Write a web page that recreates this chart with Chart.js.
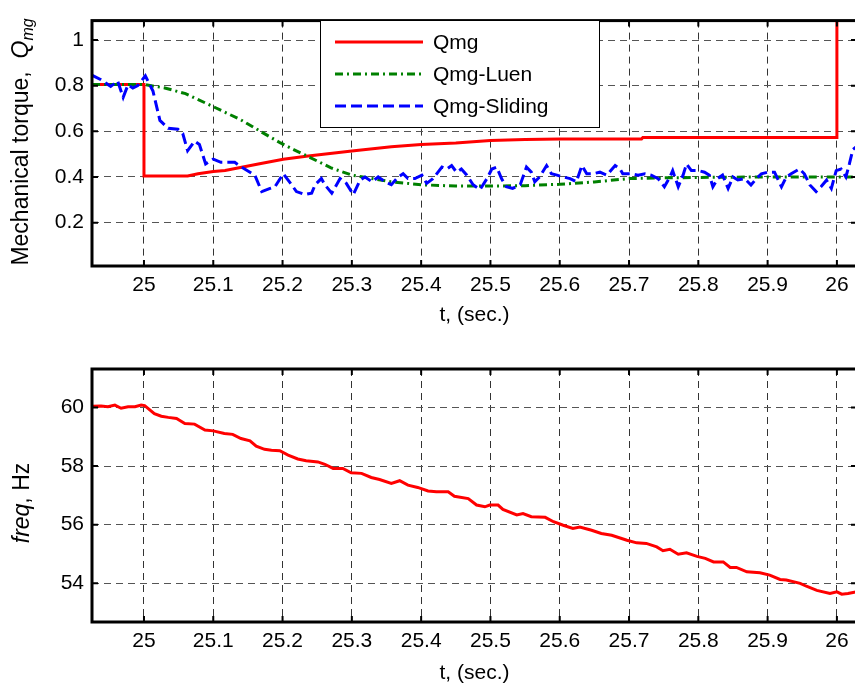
<!DOCTYPE html>
<html>
<head>
<meta charset="utf-8">
<script src="https://cdn.jsdelivr.net/npm/chart.js@4.4.1/dist/chart.umd.min.js"></script>
<style>
  html, body { margin: 0; padding: 0; background: #fff; overflow: hidden; }
  .box { position: absolute; left: 0; width: 870px; }
  #top { top: 0; height: 340px; }
  #bot { top: 340px; height: 348px; }
</style>
</head>
<body>
<div class="box" id="top"><canvas id="torqueChart"></canvas></div>
<div class="box" id="bot"><canvas id="freqChart"></canvas></div>
<script>
// x axis ticks (shared by both plots)
const xTicks = [25, 25.1, 25.2, 25.3, 25.4, 25.5, 25.6, 25.7, 25.8, 25.9, 26];
const xTickLabels = ["25", "25.1", "25.2", "25.3", "25.4", "25.5", "25.6", "25.7", "25.8", "25.9", "26"];

// top plot: mechanical torque
const torqueTicks = [0.2, 0.4, 0.6, 0.8, 1];
const torqueTickLabels = ["0.2", "0.4", "0.6", "0.8", "1"];

const qmgTime = [24.925, 25.0, 25.0, 25.063, 25.078, 25.1, 25.117, 25.165, 25.201, 25.237, 25.3, 25.357, 25.4, 25.45, 25.5, 25.55, 25.6, 25.718, 25.72, 26.0, 26.0, 26.03];
const qmgValues = [0.805, 0.805, 0.404, 0.404, 0.414, 0.424, 0.428, 0.457, 0.478, 0.492, 0.514, 0.532, 0.542, 0.549, 0.56, 0.564, 0.566, 0.566, 0.573, 0.573, 1.3, 1.3];

const luenTime = [24.925, 25.0, 25.03, 25.06, 25.1, 25.14, 25.168, 25.197, 25.216, 25.24, 25.27, 25.3, 25.356, 25.4, 25.45, 25.5, 25.55, 25.6, 25.65, 25.7, 25.75, 25.8, 25.9, 26.0, 26.03];
const luenValues = [0.805, 0.805, 0.79, 0.765, 0.708, 0.65, 0.60, 0.549, 0.52, 0.485, 0.44, 0.408, 0.379, 0.366, 0.36, 0.36, 0.362, 0.368, 0.378, 0.393, 0.396, 0.398, 0.40, 0.40, 0.40];

const slidingTime = [24.924, 24.938, 24.952, 24.962, 24.970, 24.977, 24.984, 24.991, 25.002, 25.013, 25.023, 25.035, 25.049, 25.056, 25.063, 25.073, 25.080, 25.089, 25.100, 25.111, 25.131, 25.141, 25.160, 25.170, 25.182, 25.189, 25.201, 25.213, 25.220, 25.232, 25.242, 25.247, 25.256, 25.261, 25.271, 25.283, 25.292, 25.302, 25.312, 25.319, 25.329, 25.338, 25.348, 25.357, 25.367, 25.374, 25.381, 25.391, 25.401, 25.408, 25.417, 25.430, 25.437, 25.444, 25.451, 25.458, 25.466, 25.475, 25.485, 25.495, 25.502, 25.509, 25.516, 25.523, 25.532, 25.543, 25.552, 25.559, 25.564, 25.571, 25.581, 25.588, 25.596, 25.605, 25.615, 25.624, 25.632, 25.639, 25.648, 25.658, 25.668, 25.680, 25.687, 25.691, 25.703, 25.713, 25.723, 25.732, 25.742, 25.751, 25.759, 25.763, 25.771, 25.778, 25.783, 25.790, 25.800, 25.809, 25.816, 25.821, 25.828, 25.835, 25.843, 25.850, 25.857, 25.867, 25.876, 25.884, 25.891, 25.900, 25.910, 25.920, 25.927, 25.934, 25.946, 25.953, 25.961, 25.970, 25.977, 25.985, 25.992, 25.999, 26.006, 26.013, 26.018, 26.023, 26.029];
const slidingValues = [0.847, 0.826, 0.797, 0.82, 0.749, 0.804, 0.79, 0.80, 0.843, 0.776, 0.648, 0.613, 0.609, 0.59, 0.515, 0.557, 0.542, 0.457, 0.478, 0.464, 0.464, 0.443, 0.408, 0.336, 0.35, 0.357, 0.414, 0.366, 0.336, 0.323, 0.329, 0.366, 0.393, 0.366, 0.329, 0.393, 0.372, 0.323, 0.387, 0.40, 0.379, 0.40, 0.379, 0.366, 0.40, 0.414, 0.393, 0.393, 0.408, 0.372, 0.393, 0.443, 0.435, 0.45, 0.421, 0.435, 0.408, 0.366, 0.345, 0.393, 0.435, 0.443, 0.393, 0.357, 0.35, 0.366, 0.443, 0.421, 0.379, 0.40, 0.45, 0.414, 0.408, 0.40, 0.393, 0.379, 0.45, 0.414, 0.414, 0.421, 0.408, 0.45, 0.435, 0.414, 0.414, 0.408, 0.414, 0.408, 0.393, 0.357, 0.40, 0.428, 0.357, 0.408, 0.457, 0.428, 0.428, 0.421, 0.408, 0.357, 0.393, 0.408, 0.35, 0.40, 0.387, 0.393, 0.365, 0.393, 0.414, 0.421, 0.421, 0.357, 0.40, 0.414, 0.435, 0.414, 0.365, 0.336, 0.357, 0.386, 0.35, 0.428, 0.435, 0.40, 0.457, 0.52, 0.535];

// bottom plot: frequency
const freqTicks = [54, 56, 58, 60];
const freqTickLabels = ["54", "56", "58", "60"];

const freqTime = [24.924, 24.938, 24.948, 24.958, 24.967, 24.977, 24.987, 24.996, 25.001, 25.015, 25.025, 25.035, 25.047, 25.059, 25.073, 25.088, 25.100, 25.116, 25.128, 25.140, 25.153, 25.162, 25.174, 25.184, 25.196, 25.208, 25.222, 25.234, 25.251, 25.261, 25.273, 25.287, 25.299, 25.314, 25.328, 25.340, 25.357, 25.369, 25.381, 25.395, 25.410, 25.422, 25.439, 25.448, 25.468, 25.480, 25.492, 25.499, 25.511, 25.518, 25.538, 25.547, 25.559, 25.579, 25.591, 25.605, 25.619, 25.629, 25.646, 25.660, 25.675, 25.697, 25.711, 25.725, 25.740, 25.749, 25.759, 25.771, 25.783, 25.798, 25.810, 25.822, 25.836, 25.846, 25.855, 25.870, 25.889, 25.903, 25.918, 25.927, 25.947, 25.956, 25.971, 25.990, 26.000, 26.007, 26.016, 26.029];
const freqValues = [60.04, 60.05, 60.02, 60.08, 59.97, 60.02, 60.02, 60.08, 60.06, 59.79, 59.70, 59.66, 59.62, 59.45, 59.43, 59.23, 59.20, 59.11, 59.08, 58.94, 58.86, 58.68, 58.57, 58.54, 58.52, 58.37, 58.24, 58.18, 58.14, 58.06, 57.92, 57.92, 57.77, 57.75, 57.61, 57.54, 57.41, 57.50, 57.35, 57.27, 57.15, 57.12, 57.12, 56.97, 56.89, 56.67, 56.61, 56.67, 56.67, 56.52, 56.33, 56.38, 56.27, 56.25, 56.10, 55.98, 55.87, 55.92, 55.81, 55.70, 55.64, 55.47, 55.38, 55.36, 55.24, 55.11, 55.16, 54.99, 55.04, 54.92, 54.85, 54.73, 54.73, 54.54, 54.54, 54.39, 54.36, 54.28, 54.13, 54.11, 54.00, 53.90, 53.76, 53.65, 53.71, 53.63, 53.65, 53.71];

const FONT = 'Arial, "Liberation Sans", Helvetica, sans-serif';
Chart.defaults.font.family = FONT;
Chart.defaults.font.size = 21;
Chart.defaults.color = "#000";

const pairs = (xs, ys) => xs.map((x, i) => ({ x: x, y: ys[i] }));

// thick box round the plot area, MATLAB style ticks pointing inwards
const framePlugin = {
    id: "frame",
    afterDraw(chart) {
        const { ctx, chartArea: a, scales } = chart;
        ctx.save();
        ctx.strokeStyle = "#000";
        ctx.lineWidth = 2;
        ctx.beginPath();
        scales.x.ticks.forEach(t => {
            const px = scales.x.getPixelForValue(t.value);
            ctx.moveTo(px, a.bottom); ctx.lineTo(px, a.bottom - 6);
            ctx.moveTo(px, a.top); ctx.lineTo(px, a.top + 6);
        });
        scales.y.ticks.forEach(t => {
            const py = scales.y.getPixelForValue(t.value);
            ctx.moveTo(a.left, py); ctx.lineTo(a.left + 6, py);
            ctx.moveTo(a.right, py); ctx.lineTo(a.right - 6, py);
        });
        ctx.stroke();
        ctx.lineWidth = 3;
        ctx.strokeRect(a.left, a.top, a.right - a.left, a.bottom - a.top);
        ctx.restore();
    }
};

// rotated y title with mixed italic / subscript parts
function yTitle(id, x, y, parts) {
    return {
        id: id,
        afterDraw(chart) {
            const ctx = chart.ctx;
            ctx.save();
            const fontOf = p => (p.italic ? "italic " : "") + (p.size || 23) + "px " + FONT;
            let total = 0;
            parts.forEach(p => { ctx.font = fontOf(p); total += ctx.measureText(p.text).width; });
            ctx.translate(x, y);
            ctx.rotate(-Math.PI / 2);
            ctx.fillStyle = "#000";
            ctx.textBaseline = "alphabetic";
            ctx.textAlign = "left";
            let u = -total / 2;
            parts.forEach(p => {
                ctx.font = fontOf(p);
                ctx.fillText(p.text, u, p.shift || 0);
                u += ctx.measureText(p.text).width;
            });
            ctx.restore();
        }
    };
}

// legend box inside the top plot
const boxLegendPlugin = {
    id: "boxLegend",
    afterDraw(chart, args, opts) {
        const ctx = chart.ctx;
        ctx.save();
        ctx.fillStyle = "#fff";
        ctx.fillRect(opts.left, opts.top, opts.width, opts.height);
        ctx.strokeStyle = "#000";
        ctx.lineWidth = 1;
        ctx.strokeRect(opts.left + 0.5, opts.top + 0.5, opts.width, opts.height);
        ctx.font = "21px " + FONT;
        ctx.textBaseline = "middle";
        chart.data.datasets.forEach((ds, i) => {
            const y = opts.top + opts.firstRow + i * opts.rowGap;
            ctx.strokeStyle = ds.borderColor;
            ctx.lineWidth = ds.borderWidth;
            ctx.setLineDash(ds.borderDash || []);
            ctx.beginPath();
            ctx.moveTo(opts.left + 15, y);
            ctx.lineTo(opts.left + 103, y);
            ctx.stroke();
            ctx.setLineDash([]);
            ctx.fillStyle = "#000";
            ctx.fillText(ds.label, opts.left + 113, y + 1);
        });
        ctx.restore();
    }
};

function xScale(axisHeight, titlePad) {
    return {
        type: "linear",
        min: 24.925,
        max: 26.029,
        afterBuildTicks: s => { s.ticks = xTicks.map(v => ({ value: v })); },
        afterFit: s => { s.height = axisHeight; },
        ticks: { padding: 7, maxRotation: 0, autoSkip: false, callback: (v, i) => xTickLabels[i] },
        grid: { color: "#333", lineWidth: 1, drawTicks: false },
        border: { display: false, dash: [7, 5] },
        title: { display: true, text: "t, (sec.)", font: { size: 21 }, padding: { top: 0, bottom: titlePad } }
    };
}

function yScale(min, max, vals, labels) {
    return {
        type: "linear",
        min: min,
        max: max,
        afterBuildTicks: s => { s.ticks = vals.map(v => ({ value: v })); },
        afterFit: s => { s.width = 92; },
        ticks: { padding: 8, autoSkip: false, callback: (v, i) => labels[i] },
        grid: { color: "#555", lineWidth: 1, drawTicks: false },
        border: { display: false, dash: [7, 5] }
    };
}

new Chart(document.getElementById("torqueChart"), {
    type: "line",
    data: {
        datasets: [{
            label: "Qmg",
            data: pairs(qmgTime, qmgValues),
            borderColor: "#ff0000",
            borderWidth: 3,
            order: 2
        }, {
            label: "Qmg-Luen",
            data: pairs(luenTime, luenValues),
            borderColor: "#008000",
            borderWidth: 3,
            borderDash: [8, 4, 2, 4],
            order: 1
        }, {
            label: "Qmg-Sliding",
            data: pairs(slidingTime, slidingValues),
            borderColor: "#0000ff",
            borderWidth: 3,
            borderDash: [11, 5],
            order: 0
        }]
    },
    options: {
        responsive: true,
        maintainAspectRatio: false,
        animation: false,
        parsing: false,
        layout: { padding: { top: 14, right: 13, bottom: 0, left: 0 } },
        elements: { point: { radius: 0 }, line: { tension: 0 } },
        scales: {
            x: xScale(74, 12),
            y: yScale(0.01, 1.085, torqueTicks, torqueTickLabels)
        },
        plugins: {
            legend: { display: false },
            tooltip: { enabled: false },
            boxLegend: { left: 320, top: 20, width: 279, height: 107, firstRow: 22, rowGap: 32 }
        }
    },
    plugins: [framePlugin, boxLegendPlugin, yTitle("torqueTitle", 28, 142, [
        { text: "Mechanical torque,  " },
        { text: "Q", italic: true },
        { text: "mg", italic: true, size: 16, shift: 5 }
    ])]
});

new Chart(document.getElementById("freqChart"), {
    type: "line",
    data: {
        datasets: [{
            label: "freq",
            data: pairs(freqTime, freqValues),
            borderColor: "#ff0000",
            borderWidth: 3
        }]
    },
    options: {
        responsive: true,
        maintainAspectRatio: false,
        animation: false,
        parsing: false,
        layout: { padding: { top: 29, right: 13, bottom: 0, left: 0 } },
        elements: { point: { radius: 0 }, line: { tension: 0 } },
        scales: {
            x: xScale(66, 2),
            y: yScale(52.68, 61.31, freqTicks, freqTickLabels)
        },
        plugins: {
            legend: { display: false },
            tooltip: { enabled: false }
        }
    },
    plugins: [framePlugin, yTitle("freqTitle", 29, 163, [
        { text: "freq", italic: true },
        { text: ", Hz" }
    ])]
});
</script>
</body>
</html>
